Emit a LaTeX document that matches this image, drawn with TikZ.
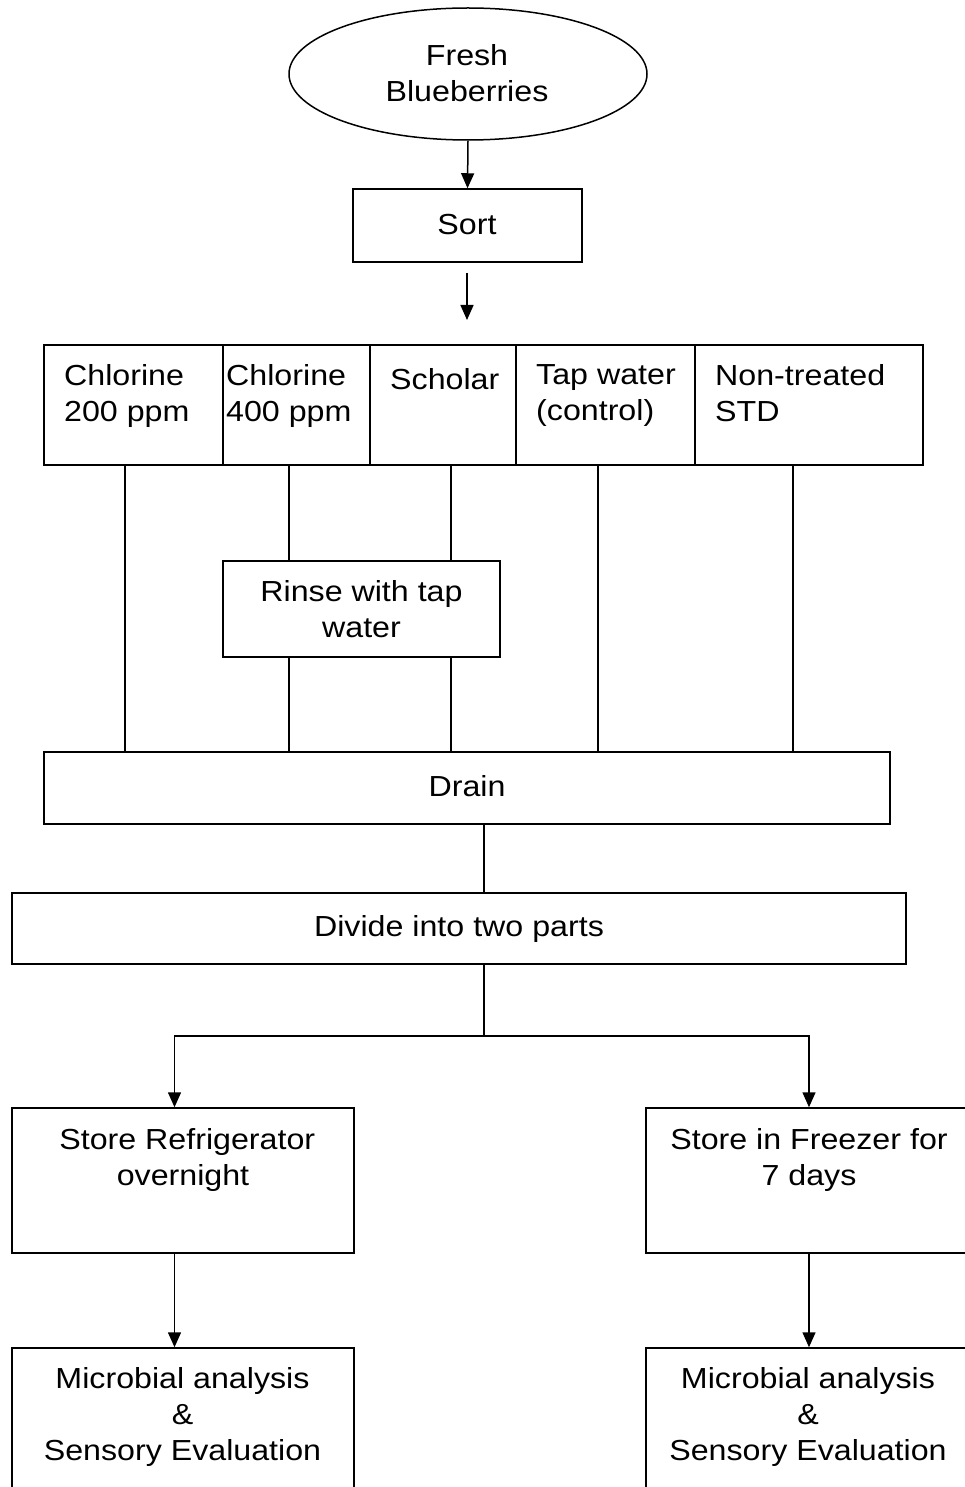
\documentclass[tikz,border=0pt]{standalone}
\usepackage{fontspec}
\setmainfont{Liberation Sans}[FakeStretch=1.11]
\usetikzlibrary{arrows.meta,shapes.geometric}
\begin{document}
\begin{tikzpicture}[x=1pt,y=-1pt,
  box/.style={draw,line width=1.5pt,rectangle,inner sep=0pt},
  oval/.style={draw,line width=1.5pt,ellipse,inner sep=0pt},
  txt/.style={inner sep=0pt,font=\fontsize{29}{36}\selectfont,execute at begin node=\strut},
  conn/.style={line width=1.5pt},
  arr/.style={line width=1.5pt,-{Triangle[width=13pt,length=15pt]}}]
\useasboundingbox (0,0) rectangle (964,1487);
% shapes
\node[oval,minimum width=358pt,minimum height=132pt] (fresh) at (468,74) {};
\node[box,minimum width=229pt,minimum height=73pt] (sort) at (467.5,225.5) {};
\node[box,minimum width=179pt,minimum height=120pt] (t1) at (133.5,405) {};
\node[box,minimum width=147pt,minimum height=120pt] (t2) at (296.5,405) {};
\node[box,minimum width=146pt,minimum height=120pt] (t3) at (443,405) {};
\node[box,minimum width=179pt,minimum height=120pt] (t4) at (605.5,405) {};
\node[box,minimum width=228pt,minimum height=120pt] (t5) at (809,405) {};
\node[box,minimum width=277pt,minimum height=96pt] (rinse) at (361.5,609) {};
\node[box,minimum width=846pt,minimum height=72pt] (drain) at (467,788) {};
\node[box,minimum width=894pt,minimum height=71pt] (divide) at (459,928.5) {};
\node[box,minimum width=342pt,minimum height=145pt] (ref) at (183,1180.5) {};
\node[box,minimum width=326pt,minimum height=145pt] (frz) at (809,1180.5) {};
\node[box,minimum width=342pt,minimum height=172pt] (mic1) at (183,1434) {};
\node[box,minimum width=326pt,minimum height=172pt] (mic2) at (809,1434) {};
% texts
\node[txt,align=center,anchor=north] (freshtxt) at (467,44) {Fresh\\Blueberries};
\node[txt,anchor=north] (sorttxt) at (467,209) {Sort};
\node[txt,align=left,anchor=north west] (t1txt) at (64,364) {Chlorine\\200 ppm};
\node[txt,align=left,anchor=north west] (t2txt) at (226,364) {Chlorine\\400 ppm};
\node[txt,align=left,anchor=north west] (t3txt) at (390,364) {Scholar};
\node[txt,align=left,anchor=north west] (t4txt) at (536,364) {Tap water\\(control)};
\node[txt,align=left,anchor=north west] (t5txt) at (715,364) {Non-treated\\STD};
\node[txt,align=center,anchor=north] (rinsetxt) at (361.5,580) {Rinse with tap\\water};
\node[txt,anchor=north] (draintxt) at (467,771) {Drain};
\node[txt,anchor=north] (dividetxt) at (459,911) {Divide into two parts};
\node[txt,align=center,anchor=north] (reftxt) at (183,1128) {\hspace*{8.6pt}Store Refrigerator\\overnight};
\node[txt,align=center,anchor=north] (frztxt) at (809,1128) {Store in Freezer for\\7 days};
\node[txt,align=center,anchor=north] (mic1txt) at (182.5,1367) {Microbial analysis\\\&\\Sensory Evaluation};
\node[txt,align=center,anchor=north] (mic2txt) at (808,1367) {Microbial analysis\\\&\\Sensory Evaluation};
% helper coordinates
\coordinate (a1) at (467,273);
\coordinate (a2) at (467,320);
\coordinate (x1) at (125,0);
\coordinate (x2) at (289,0);
\coordinate (x3) at (451,0);
\coordinate (x4) at (598,0);
\coordinate (x5) at (793,0);
\coordinate (xd) at (484,0);
\coordinate (j) at (484,1036);
\coordinate (xl) at (174.5,0);
\coordinate (xr) at (809,0);
% connectors
\draw[arr] (fresh.south) -- (sort.north);
\draw[arr] (a1) -- (a2);
\draw[conn] (t1.south -| x1) -- (drain.north -| x1);
\draw[conn] (t2.south -| x2) -- (rinse.north -| x2);
\draw[conn] (t3.south -| x3) -- (rinse.north -| x3);
\draw[conn] (rinse.south -| x2) -- (drain.north -| x2);
\draw[conn] (rinse.south -| x3) -- (drain.north -| x3);
\draw[conn] (t4.south -| x4) -- (drain.north -| x4);
\draw[conn] (t5.south -| x5) -- (drain.north -| x5);
\draw[conn] (drain.south -| xd) -- (divide.north -| xd);
\draw[conn] (divide.south -| xd) -- (j);
\draw[arr] (j) -| (ref.north -| xl);
\draw[arr] (j) -| (frz.north -| xr);
\draw[arr] (ref.south -| xl) -- (mic1.north -| xl);
\draw[arr] (frz.south -| xr) -- (mic2.north -| xr);
\end{tikzpicture}
\end{document}
